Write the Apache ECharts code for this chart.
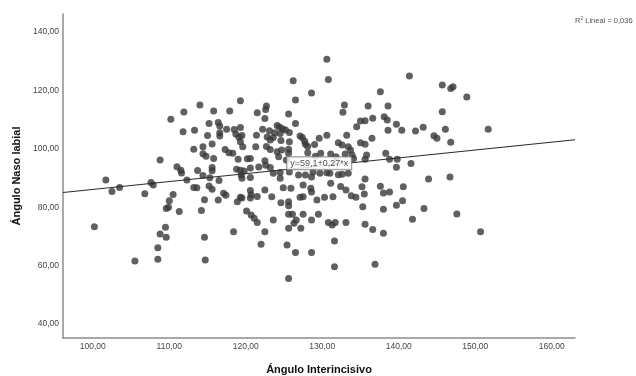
<!DOCTYPE html>
<html>
<head>
<meta charset="utf-8">
<script src="https://cdn.jsdelivr.net/npm/echarts@6/dist/echarts.min.js"></script>
<style>
  html, body { margin: 0; padding: 0; background: #fff; }
  #chart { width: 636px; height: 376px; }
</style>
</head>
<body>
<div id="chart"></div>
<script>
// Ángulo Interincisivo (x) / Ángulo Naso labial (y)
var anguloInter = [
  100.2, 101.7, 102.5, 103.5, 105.5, 106.8, 107.6, 107.9, 108.5, 108.5,
  108.8, 108.8, 109.5, 109.6, 109.6, 109.9, 110.0, 110.2, 110.5, 111.0,
  111.5, 111.6, 111.3, 111.9, 111.8, 112.3, 113.2, 113.2, 113.6, 113.3,
  113.7, 114.0, 114.2, 114.4, 114.4, 114.4, 114.6, 114.6, 114.7, 114.8,
  115.0, 115.2, 115.2, 115.3, 115.6, 115.6, 115.6, 115.6, 115.8, 115.8,
  116.4, 116.6, 116.6, 116.6, 116.5, 116.4, 117.1, 117.4, 117.3, 117.8,
  118.3, 117.5, 117.9, 118.4, 118.5, 118.7, 119.1, 119.3, 119.5, 118.8,
  118.9, 119.0, 119.3, 119.3, 119.3, 119.3, 119.4, 119.5, 119.6, 119.5,
  119.8, 120.2, 120.1, 120.6, 120.7, 120.6, 120.6, 120.6, 120.6, 120.7,
  121.1, 121.4, 121.3, 121.5, 121.5, 121.5, 121.7, 122.0, 122.2, 122.5,
  122.7, 122.6, 122.5, 122.6, 123.2, 122.5, 122.5, 122.8, 123.2, 122.7,
  123.2, 123.1, 123.4, 123.6, 123.6, 123.6, 123.8, 124.1, 124.4, 124.8,
  125.2, 125.7, 124.3, 124.5, 124.6, 124.5, 124.5, 124.6, 124.1, 124.7,
  124.9, 125.6, 125.3, 125.6, 125.7, 125.6, 125.7, 125.6, 125.6, 125.6,
  126.1, 125.6, 125.4, 125.6, 125.9, 126.2, 126.3, 126.6, 126.5, 126.5,
  126.5, 126.9, 127.1, 127.4, 127.1, 127.2, 127.5, 127.5, 127.5, 127.7,
  127.8, 128.1, 127.8, 128.1, 128.5, 128.6, 128.6, 128.6, 128.6, 128.6,
  128.8, 129.0, 129.1, 129.3, 129.5, 129.6, 129.7, 129.8, 130.3, 130.6,
  130.6, 130.6, 130.8, 130.8, 131.3, 131.7, 131.0, 131.1, 131.1, 131.4,
  131.6, 131.6, 131.8, 132.1, 132.1, 132.4, 132.6, 132.6, 132.7, 132.9,
  133.0, 133.2, 133.1, 133.1, 133.4, 133.7, 133.9, 134.1, 133.4, 133.8,
  134.4, 134.5, 135.0, 135.0, 135.6, 135.2, 135.6, 135.3, 135.5, 135.6,
  135.6, 135.8, 135.6, 136.0, 136.5, 136.6, 136.6, 136.9, 137.6, 137.6,
  138.0, 138.8, 138.0, 138.0, 138.1, 138.5, 138.3, 138.6, 138.6, 138.8,
  139.8, 139.7, 139.7, 139.7, 140.4, 140.5, 140.6, 141.4, 141.6, 141.8,
  142.2, 143.2, 143.3, 143.9, 144.6, 145.0, 145.7, 145.7, 146.1, 146.7,
  146.8, 147.1, 146.8, 147.6, 148.9, 150.7, 151.7
];
var anguloNaso = [
  73.3, 89.3, 85.4, 86.8, 61.6, 84.6, 88.5, 87.6, 66.1, 62.2,
  96.2, 70.8, 73.1, 69.7, 79.6, 80.0, 82.2, 110.1, 84.4, 93.9,
  92.7, 91.7, 78.5, 112.6, 105.9, 89.3, 99.9, 86.8, 86.7, 106.4,
  92.6, 115.0, 78.9, 98.3, 100.7, 90.9, 82.6, 69.7, 61.9, 97.5,
  104.6, 108.7, 87.3, 90.1, 101.7, 86.2, 93.6, 92.5, 113.0, 96.7,
  109.0, 107.8, 105.5, 104.4, 89.2, 82.5, 84.8, 84.1, 99.8, 98.7,
  98.5, 106.7, 113.0, 71.6, 106.6, 105.1, 104.0, 107.3, 104.6, 93.0,
  81.9, 96.4, 102.4, 92.7, 83.4, 116.5, 91.0, 89.9, 100.7, 83.2,
  92.4, 96.6, 78.7, 85.7, 84.3, 83.2, 96.7, 93.4, 90.2, 77.3,
  76.2, 104.7, 100.7, 112.4, 83.7, 74.8, 93.8, 67.3, 106.7, 110.4,
  114.7, 113.5, 95.9, 94.4, 93.6, 85.9, 71.6, 104.1, 103.0, 100.8,
  99.8, 106.2, 83.6, 103.9, 91.6, 75.6, 105.5, 108.0, 107.5, 106.9,
  106.5, 105.6, 97.3, 105.3, 102.9, 91.9, 89.9, 81.5, 99.0, 99.6,
  86.7, 99.9, 96.2, 111.9, 92.1, 98.5, 102.4, 81.9, 80.5, 77.6,
  77.6, 72.8, 67.1, 55.6, 86.5, 123.3, 74.5, 75.6, 116.7, 108.7,
  64.5, 91.0, 104.4, 103.9, 83.4, 72.8, 87.6, 83.6, 77.6, 102.6,
  101.6, 100.8, 91.0, 98.7, 86.5, 85.2, 119.1, 90.4, 75.6, 64.5,
  92.1, 101.5, 97.5, 82.5, 77.6, 103.6, 91.6, 98.5, 83.4, 130.7,
  104.7, 91.8, 123.8, 74.8, 73.9, 74.8, 91.6, 88.2, 98.2, 83.6,
  68.4, 59.6, 97.3, 91.1, 102.1, 87.1, 101.3, 91.3, 112.5, 115.0,
  98.2, 104.7, 85.9, 74.8, 100.7, 99.6, 97.9, 96.7, 91.6, 83.9,
  83.4, 107.6, 109.5, 102.1, 101.6, 87.0, 109.6, 80.2, 84.5, 89.7,
  74.2, 97.9, 96.4, 114.7, 103.6, 110.5, 72.4, 60.5, 119.6, 87.2,
  84.9, 85.2, 79.3, 71.1, 111.0, 109.9, 98.5, 114.7, 106.4, 96.4,
  96.4, 108.4, 93.7, 80.7, 106.4, 82.2, 87.0, 125.0, 95.0, 75.9,
  106.1, 107.4, 79.6, 89.7, 104.5, 103.6, 121.9, 112.7, 106.7, 90.4,
  120.7, 121.3, 102.3, 77.7, 117.8, 71.6, 106.7
];

var xTicks = [100, 110, 120, 130, 140, 150, 160];
var yTicks = [40, 60, 80, 100, 120, 140];

// recta de ajuste: y = 59,1 + 0,27*x  (R2 lineal = 0,036)
var intercepto = 59.1;
var pendiente = 0.27;
var r2 = '0,036';
var xMin = 96.1, xMax = 163.05;
var yMin = 35.2, yMax = 146.2;
var etiquetaPos = [129.6, 95.1];

var puntos = anguloInter.map(function (x, i) { return [x, anguloNaso[i]]; });
var recta = [
  [xMin, intercepto + pendiente * xMin],
  [xMax, intercepto + pendiente * xMax]
];

function coma(v) {
  return v.toFixed(2).replace('.', ',');
}

var chart = echarts.init(document.getElementById('chart'));
var font = '"Liberation Sans", Arial, sans-serif';

var option = {
  animation: false,
  backgroundColor: '#fff',
  textStyle: { fontFamily: font },
  grid: { left: 63, right: 61, top: 14, bottom: 38, outerBoundsMode: 'none', containLabel: false },
  xAxis: {
    type: 'value',
    min: xMin,
    max: xMax,
    name: 'Ángulo Interincisivo',
    nameLocation: 'middle',
    nameGap: 26,
    nameTextStyle: { fontSize: 11, fontWeight: 'bold', color: '#111', fontFamily: font },
    axisLine: { show: true, lineStyle: { color: '#8c8c8c', width: 1.5 } },
    axisTick: { show: false },
    splitLine: { show: false },
    axisLabel: {
      customValues: xTicks,
      formatter: coma,
      fontSize: 8.5,
      color: '#444',
      margin: 4,
      fontFamily: font
    }
  },
  yAxis: {
    type: 'value',
    min: yMin,
    max: yMax,
    name: 'Ángulo Naso labial',
    nameLocation: 'middle',
    nameGap: 39,
    nameRotate: 90,
    nameTextStyle: { fontSize: 11, fontWeight: 'bold', color: '#111', fontFamily: font },
    axisLine: { show: true, lineStyle: { color: '#8c8c8c', width: 1.5 } },
    axisTick: { show: false },
    splitLine: { show: false },
    axisLabel: {
      customValues: yTicks,
      formatter: coma,
      fontSize: 8.5,
      color: '#444',
      margin: 4,
      fontFamily: font
    }
  },
  graphic: [
    {
      type: 'text',
      left: 575,
      top: 16,
      style: {
        text: '{a|R}{s|2}{a| Lineal = ' + r2 + '}',
        rich: {
          a: { fontSize: 7.5, fill: '#555', fontFamily: font },
          s: { fontSize: 5, fill: '#555', fontFamily: font, verticalAlign: 'top', padding: [0, 0, 4, 0] }
        }
      }
    }
  ],
  series: [
    {
      type: 'line',
      data: recta,
      symbol: 'none',
      silent: true,
      lineStyle: { color: '#2b2b2b', width: 1.2 },
      z: 3
    },
    {
      type: 'scatter',
      data: puntos,
      symbol: 'circle',
      symbolSize: 7,
      itemStyle: { color: '#383838' },
      z: 2
    },
    {
      type: 'scatter',
      data: [etiquetaPos],
      symbolSize: 0,
      silent: true,
      z: 5,
      label: {
        show: true,
        position: 'inside',
        formatter: 'y=59,1+0,27*x',
        fontSize: 9,
        color: '#222',
        fontFamily: font,
        backgroundColor: '#fff',
        borderColor: '#777',
        borderWidth: 1,
        padding: [2, 3, 1, 3]
      }
    }
  ]
};

chart.setOption(option);
</script>
</body>
</html>
